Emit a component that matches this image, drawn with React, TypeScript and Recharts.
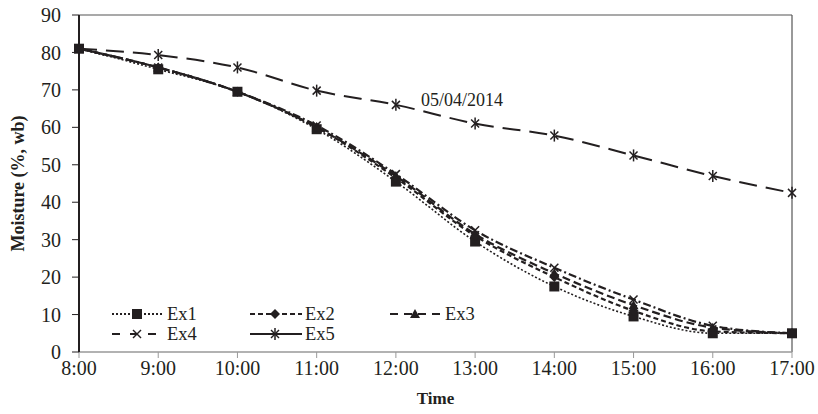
import React from "react";
import {
  LineChart,
  Line,
  XAxis,
  YAxis,
  ReferenceLine,
  ReferenceDot,
  Legend,
} from "recharts";

const times = ["8:00", "9:00", "10:00", "11:00", "12:00", "13:00", "14:00", "15:00", "16:00", "17:00"];
const ex1 = [81, 75.5, 69.5, 59.5, 45.5, 29.5, 17.5, 9.5, 5, 5];
const ex2 = [81, 76, 69.5, 60, 46.5, 31, 20, 11, 5.5, 5];
const ex3 = [81, 76, 69.5, 60, 47, 31.5, 21, 12.5, 6.5, 5];
const ex4 = [81, 76, 69.5, 60.5, 47.5, 32.5, 22.5, 14, 7, 5];
const ex5 = [81, 79.3, 76, 69.8, 66, 61, 57.8, 52.5, 47, 42.5];
const yTicks = [0, 10, 20, 30, 40, 50, 60, 70, 80, 90];

const data = times.map((t, i) => ({
  time: t,
  Ex1: ex1[i],
  Ex2: ex2[i],
  Ex3: ex3[i],
  Ex4: ex4[i],
  Ex5: ex5[i],
}));

const FONT = "'Liberation Serif', 'Times New Roman', serif";
const INK = "#231f20";

type Shape = "square" | "diamond" | "triangle" | "x" | "star";

function Marker({ cx, cy, shape }: { cx: number; cy: number; shape: Shape }) {
  if (shape === "square") return <rect x={cx - 5} y={cy - 5} width={10} height={10} fill={INK} />;
  if (shape === "diamond")
    return <polygon points={`${cx},${cy - 5} ${cx + 5},${cy} ${cx},${cy + 5} ${cx - 5},${cy}`} fill={INK} />;
  if (shape === "triangle")
    return <polygon points={`${cx},${cy - 5} ${cx + 5},${cy + 4} ${cx - 5},${cy + 4}`} fill={INK} />;
  if (shape === "x")
    return (
      <g stroke={INK} strokeWidth={1.5}>
        <line x1={cx - 4} y1={cy - 4} x2={cx + 4} y2={cy + 4} />
        <line x1={cx - 4} y1={cy + 4} x2={cx + 4} y2={cy - 4} />
      </g>
    );
  return (
    <g stroke={INK} strokeWidth={1.5}>
      <line x1={cx - 4} y1={cy - 4} x2={cx + 4} y2={cy + 4} />
      <line x1={cx - 4} y1={cy + 4} x2={cx + 4} y2={cy - 4} />
      <line x1={cx} y1={cy - 6} x2={cx} y2={cy + 6} />
    </g>
  );
}

const dotFor = (shape: Shape) => (p: any) =>
  <Marker key={`${shape}-${p.index}`} cx={p.cx} cy={p.cy} shape={shape} />;

const series = [
  { key: "Ex1", shape: "square" as Shape, dash: "2 2", legendDash: "2 2", width: 1.6 },
  { key: "Ex2", shape: "diamond" as Shape, dash: "5 3", legendDash: "5 3", width: 2.2 },
  { key: "Ex3", shape: "triangle" as Shape, dash: "8 4", legendDash: "8 6", width: 2.2 },
  { key: "Ex4", shape: "x" as Shape, dash: "8 3 2 3", legendDash: "8 10", width: 2.2 },
  { key: "Ex5", shape: "star" as Shape, dash: "18 9", legendDash: "", width: 2 },
];

const legendPos = [
  { x: 112, y: 314 },
  { x: 250, y: 314 },
  { x: 390, y: 314 },
  { x: 112, y: 334 },
  { x: 250, y: 334 },
];

function LegendBox() {
  return (
    <svg width={818} height={414} style={{ position: "absolute", left: 0, top: 0, overflow: "visible" }}>
      {series.map((s, i) => {
        const { x, y } = legendPos[i];
        return (
          <g key={s.key}>
            <line x1={x} y1={y} x2={x + 52} y2={y} stroke={INK} strokeWidth={2} strokeDasharray={s.legendDash || undefined} />
            <Marker cx={x + 25} cy={y} shape={s.shape} />
            <text x={x + 55} y={y + 6} fontFamily={FONT} fontSize={18.5} fill={INK}>
              {s.key}
            </text>
          </g>
        );
      })}
    </svg>
  );
}

export default function App() {
  return (
    <div style={{ position: "fixed", left: 0, top: 0, width: 818, height: 414, background: "#fff" }}>
      <LineChart width={818} height={414} data={data} margin={{ top: 15, right: 26, left: 0, bottom: 0 }}>
        <XAxis
          dataKey="time"
          height={62}
          tick={{ fontFamily: FONT, fontSize: 20, fill: INK }}
          tickLine={{ stroke: "#999" }}
          axisLine={{ stroke: "#999", strokeWidth: 1.5 }}
          tickSize={6}
          tickMargin={3}
          interval={0}
          label={({ viewBox }: any) => (
            <text x={viewBox.x + viewBox.width / 2} y={404} textAnchor="middle" fontFamily={FONT} fontWeight="bold" fontSize={17} fill={INK}>
              Time
            </text>
          )}
        />
        <YAxis
          width={79}
          domain={[0, 90]}
          ticks={yTicks}
          interval={0}
          tick={{ fontFamily: FONT, fontSize: 20, fill: INK }}
          tickLine={{ stroke: INK }}
          axisLine={{ stroke: INK, strokeWidth: 2 }}
          tickSize={7}
          tickMargin={11}
          label={({ viewBox }: any) => {
            const cy = viewBox.y + viewBox.height / 2;
            return (
              <text x={24} y={cy} transform={`rotate(-90 24 ${cy})`} textAnchor="middle" fontFamily={FONT} fontWeight="bold" fontSize={18} fill={INK}>
                Moisture (%, wb)
              </text>
            );
          }}
        />
        <ReferenceLine y={90} stroke="#555" strokeWidth={1.2} />
        <ReferenceLine x="17:00" stroke="#555" strokeWidth={1.2} />
        <ReferenceDot
          x="13:00"
          y={67.3}
          r={0}
          fill="none"
          stroke="none"
          label={{ value: "05/04/2014", position: "center", dx: -13, fontFamily: FONT, fontSize: 18, fill: INK }}
        />
        {series.map((s) => (
          <Line
            key={s.key}
            type="monotone"
            dataKey={s.key}
            stroke={INK}
            strokeWidth={s.width}
            strokeDasharray={s.dash}
            dot={dotFor(s.shape)}
            activeDot={false}
            isAnimationActive={false}
          />
        ))}
        <Legend
          content={() => <LegendBox />}
          wrapperStyle={{ position: "absolute", left: 0, top: 0, width: 0, height: 0, overflow: "visible" }}
        />
      </LineChart>
    </div>
  );
}
